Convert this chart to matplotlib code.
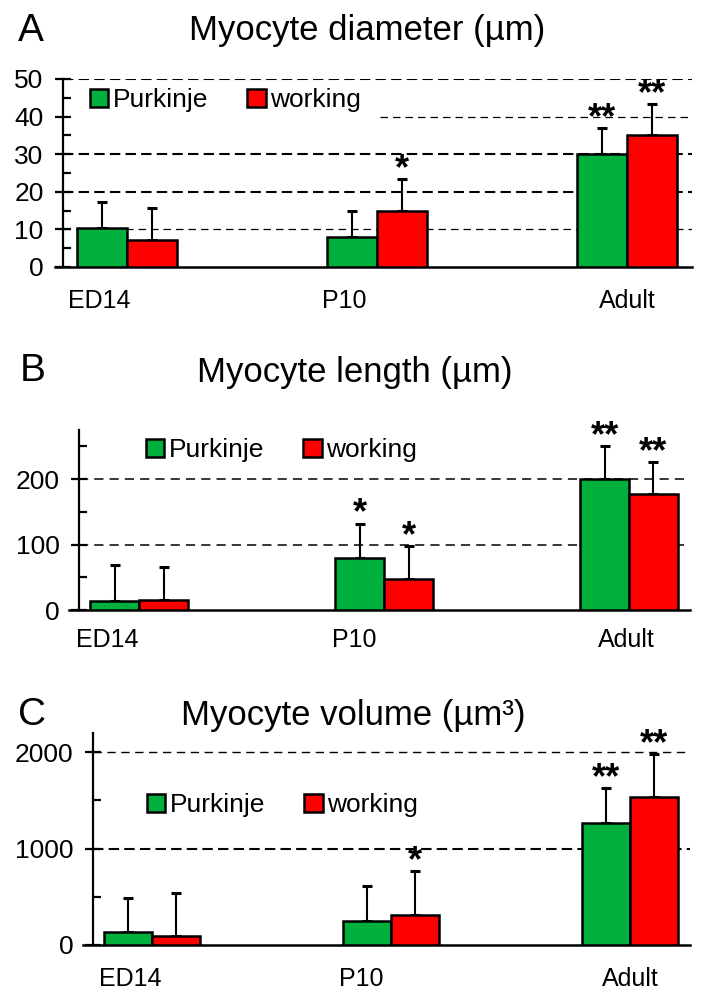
import numpy as np
import matplotlib
matplotlib.use("Agg")
import matplotlib.pyplot as plt
from matplotlib.patches import Patch

plt.rcParams['font.family'] = ['Liberation Sans', 'DejaVu Sans']

groups = ['ED14', 'P10', 'Adult']
series = ['Purkinje', 'working']
colors = ['#00B03C', '#FF0000']

# A: myocyte diameter (um)
diam_purk = [10.4, 7.9, 30.0]
diam_purk_sd = [7.0, 7.0, 7.0]
diam_work = [7.2, 15.0, 35.0]
diam_work_sd = [8.4, 8.4, 8.4]
diam_purk_sig = ['', '', '**']
diam_work_sig = ['', '*', '**']

# B: myocyte length (um)
len_purk = [14, 79, 200]
len_purk_sd = [54, 53, 51]
len_work = [16, 48, 177]
len_work_sd = [50, 50, 49]
len_purk_sig = ['', '*', '**']
len_work_sig = ['', '*', '**']

# C: myocyte volume (um^3)
vol_purk = [130, 245, 1270]
vol_purk_sd = [360, 365, 355]
vol_work = [95, 315, 1535]
vol_work_sd = [448, 450, 448]
vol_purk_sig = ['', '', '**']
vol_work_sig = ['', '*', '**']

W, H = 710, 1008
fig = plt.figure(figsize=(W / 100, H / 100), dpi=100)


def rect(x0, x1, ytop, ybot):
    return [x0 / W, 1 - ybot / H, (x1 - x0) / W, (ybot - ytop) / H]


panels = [
    dict(letter='A', title='Myocyte diameter (µm)',
         data=[(diam_purk, diam_purk_sd, diam_purk_sig), (diam_work, diam_work_sd, diam_work_sig)],
         rect=rect(55, 692, 79, 267), xlim=(-0.288, 2.26), spine=-0.256,
         ylim=(0, 50), major=np.arange(0, 51, 10), minor=np.arange(5, 50, 10),
         grid=[(10, 0.9, 0.0), (20, 1.5, 0.0), (30, 1.5, 0.0), (40, 0.9, 0.51), (50, 1.5, 0.0)],
         leg=(90, 100), title_xy=(367, 40), letter_xy=(18, 41),
         lab_off=[-0.11, -0.13, 0.0], lab_gap=16),
    dict(letter='B', title='Myocyte length (µm)',
         data=[(len_purk, len_purk_sd, len_purk_sig), (len_work, len_work_sd, len_work_sig)],
         rect=rect(69, 690, 430, 610), xlim=(-0.286, 2.249), spine=-0.245,
         ylim=(0, 275), major=[0, 100, 200], minor=[50, 150, 250],
         grid=[(100, 1.1, 0.0), (200, 1.1, 0.0)],
         leg=(146, 450), title_xy=(355, 382), letter_xy=(20, 381),
         lab_off=[-0.13, -0.12, -0.01], lab_gap=13),
    dict(letter='C', title='Myocyte volume (µm³)',
         data=[(vol_purk, vol_purk_sd, vol_purk_sig), (vol_work, vol_work_sd, vol_work_sig)],
         rect=rect(83, 690, 733, 945), xlim=(-0.289, 2.251), spine=-0.247,
         ylim=(0, 2200), major=[0, 1000, 2000], minor=[500, 1500],
         grid=[(1000, 1.5, 0.0), (2000, 1.0, 0.0)],
         leg=(147, 805), title_xy=(353, 725), letter_xy=(18, 725),
         lab_off=[-0.09, -0.125, 0.0], lab_gap=16),
]

x = np.arange(len(groups))
width = 0.2

for p in panels:
    ax = fig.add_axes(p['rect'])
    ax.set_xlim(*p['xlim'])
    ax.set_ylim(*p['ylim'])

    for (vals, sd, sig), col, off in zip(p['data'], colors, [-width / 2, width / 2]):
        ax.bar(x + off, vals, width, color=col, edgecolor='black', linewidth=1.8, zorder=3)
        ax.errorbar(x + off, vals, yerr=[np.zeros(len(vals)), sd], fmt='none', ecolor='black',
                    elinewidth=1.5, capsize=3.8, capthick=2.2, zorder=2)
        for xi, v, s, t in zip(x + off, vals, sd, sig):
            if t:
                ax.annotate(t, (xi, v + s), xytext=(0, 0), textcoords='offset points',
                            ha='center', va='baseline', fontsize=26, fontweight='bold')

    start0 = (p['spine'] - p['xlim'][0]) / (p['xlim'][1] - p['xlim'][0])
    for lvl, lw, st in p['grid']:
        dash = (0, (5, 2.5)) if lw > 1.2 else (0, (6, 4))
        ax.axhline(lvl, xmin=max(start0, st), xmax=1, color='black', lw=lw,
                   linestyle=dash, zorder=1)

    for s in ['top', 'right']:
        ax.spines[s].set_visible(False)
    ax.spines['left'].set_position(('data', p['spine']))
    ax.spines['left'].set_linewidth(1.6)
    ax.spines['bottom'].set_linewidth(1.8)

    ax.set_yticks(p['major'])
    ax.set_yticks(p['minor'], minor=True)
    ax.tick_params(axis='y', which='major', direction='inout', length=12, width=1.6,
                   labelsize=19, pad=8)
    ax.tick_params(axis='y', which='minor', direction='in', length=6, width=1.6)
    ax.set_xticks([])

    for xi, g, lo in zip(x, groups, p['lab_off']):
        ax.annotate(g, (xi + lo, 0), xycoords=('data', 'axes fraction'),
                    xytext=(0, -p['lab_gap']), textcoords='offset points',
                    ha='center', va='top', fontsize=18)

    handles = [Patch(facecolor=c, edgecolor='black', linewidth=1.8) for c in colors]
    lx, ly = p['leg']
    fig.legend(handles, series, loc='center left', bbox_to_anchor=(lx / W, 1 - ly / H),
               ncol=2, frameon=False, fontsize=19, handlelength=0.7, handleheight=0.7,
               handletextpad=0.15, columnspacing=1.5, borderpad=0, borderaxespad=0)

    tx, ty = p['title_xy']
    fig.text(tx / W, 1 - ty / H, p['title'], ha='center', va='baseline', fontsize=25)
    lx, ly = p['letter_xy']
    fig.text(lx / W, 1 - ly / H, p['letter'], ha='left', va='baseline', fontsize=28)

plt.savefig('out.png', dpi=100)
